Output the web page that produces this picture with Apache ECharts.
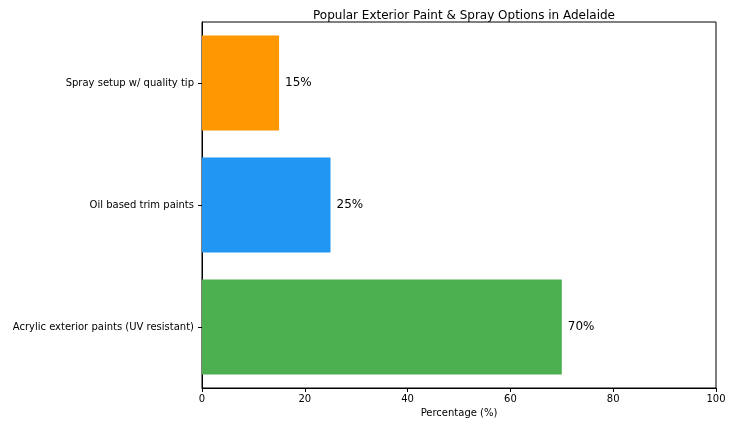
<!DOCTYPE html>
<html>
<head>
<meta charset="utf-8">
<script src="https://cdn.jsdelivr.net/npm/echarts@6/dist/echarts.min.js"></script>
<style>html,body{margin:0;padding:0;background:#fff}#chart{width:733px;height:426px}</style>
</head>
<body>
<div id="chart"></div>
<script>
const categories = ['Acrylic exterior paints (UV resistant)', 'Oil based trim paints', 'Spray setup w/ quality tip'];
const values = [70, 25, 15];
const colors = ['#4CAF50', '#2196F3', '#FF9800'];
const xTicks = [0, 20, 40, 60, 80, 100];

const chart = echarts.init(document.getElementById('chart'));
const font = 'DejaVu Sans';
chart.setOption({
  animation: false,
  textStyle: {fontFamily: font},
  title: {
    text: 'Popular Exterior Paint & Spray Options in Adelaide',
    left: 459, top: 5, textAlign: 'center',
    textStyle: {fontSize: 12, fontWeight: 'normal', color: '#000', fontFamily: font}
  },
  grid: {left: 202, right: 17, top: 22, bottom: 38, show: true, borderColor: '#000', borderWidth: 1},
  xAxis: {
    type: 'value', min: 0, max: 100, interval: 20,
    name: 'Percentage (%)', nameLocation: 'middle', nameGap: 20,
    nameTextStyle: {fontSize: 10, color: '#000'},
    axisLine: {show: true, lineStyle: {color: '#000'}},
    axisTick: {show: true, length: 4, lineStyle: {color: '#000'}},
    axisLabel: {fontSize: 10, color: '#000', margin: 6, formatter: v => xTicks.includes(v) ? v : ''},
    splitLine: {show: false}
  },
  yAxis: {
    type: 'category', data: categories,
    axisLine: {show: true, lineStyle: {color: '#000'}},
    axisTick: {show: true, alignWithLabel: true, length: 4, lineStyle: {color: '#000'}},
    axisLabel: {fontSize: 10, color: '#000', margin: 8}
  },
  series: [{
    type: 'bar', barWidth: 95,
    data: values.map((v, i) => ({value: v, itemStyle: {color: colors[i]}})),
    label: {show: true, position: 'right', distance: 6, formatter: '{c}%', fontSize: 12, color: '#000'}
  }]
});
</script>
</body>
</html>
